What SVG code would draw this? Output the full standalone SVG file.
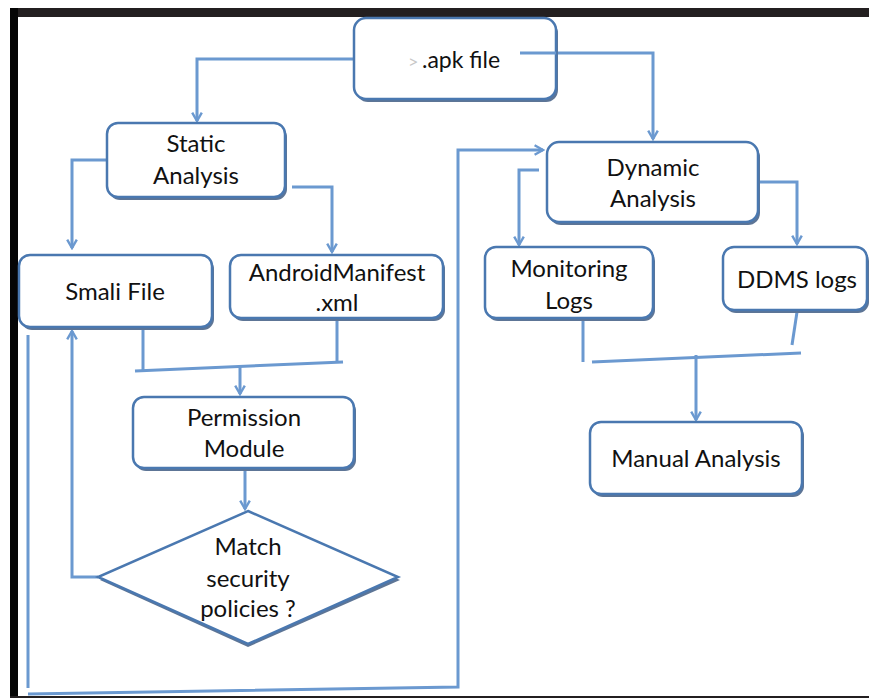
<svg xmlns="http://www.w3.org/2000/svg" width="869" height="698" viewBox="0 0 869 698">
<style>
.box{fill:#fff;stroke:#4a78b0;stroke-width:2.5}
.sh{fill:#5d7596;stroke:none}
.t{font-family:Lato,"Liberation Sans",sans-serif;font-size:24px;fill:#111;text-anchor:middle}
.c{fill:none;stroke:#6b99d0;stroke-width:3}
</style>
<defs>
<marker id="ah" viewBox="0 0 10 10" refX="8" refY="5" markerWidth="4" markerHeight="4" orient="auto" markerUnits="strokeWidth">
<path d="M1,1 L8,5 L1,9" fill="none" stroke="#6b99d0" stroke-width="2"/>
</marker>
</defs>
<rect width="869" height="698" fill="#fff"/>
<rect x="10" y="8" width="859" height="9" fill="#231f20"/>
<rect x="10" y="8" width="8" height="690" fill="#050505"/>
<rect x="10" y="696" width="859" height="2" fill="#231f20"/>

<g id="connectors">
<path class="c" d="M354,59 H197 V121" marker-end="url(#ah)"/>
<path class="c" d="M520,53 H653 V139" marker-end="url(#ah)"/>
<path class="c" d="M107,160 H72 V248" marker-end="url(#ah)"/>
<path class="c" d="M292,187 H332 V252" marker-end="url(#ah)"/>
<path class="c" d="M143,329 V370"/>
<path class="c" d="M337,319 V362"/>
<path class="c" d="M135,371 L343,362"/>
<path class="c" d="M240,367 V394" marker-end="url(#ah)"/>
<path class="c" d="M245,470 V509" marker-end="url(#ah)"/>
<path class="c" d="M98,577 H72 V331" marker-end="url(#ah)"/>
<path class="c" d="M28,335 V688"/>
<path class="c" d="M28,694 L458,687 V150 H543" marker-end="url(#ah)"/>
<path class="c" d="M539,170 H519 V245" marker-end="url(#ah)"/>
<path class="c" d="M760,182 H797 V244" marker-end="url(#ah)"/>
<path class="c" d="M583,319 V362"/>
<path class="c" d="M797,312 L792,345"/>
<path class="c" d="M592,362 L801,353"/>
<path class="c" d="M696,355 V420" marker-end="url(#ah)"/>
</g>

<g id="apk">
<rect class="sh" x="356" y="21" width="202" height="81" rx="12"/>
<rect class="box" x="354" y="18" width="202" height="81" rx="12"/>
<text class="t" x="408" y="68" style="text-anchor:start;fill:#c8c8c8;font-size:18px">&gt;</text>
<text class="t" x="461" y="68" style="font-size:23px">.apk file</text>
</g>
<path class="c" d="M520,53 H556"/>

<g id="static">
<rect class="sh" x="109" y="126" width="178" height="74" rx="11"/>
<rect class="box" x="107" y="123" width="178" height="74" rx="11"/>
<text class="t" x="196" y="152">Static</text>
<text class="t" x="196" y="184">Analysis</text>
</g>

<g id="smali">
<rect class="sh" x="21" y="258" width="193" height="72" rx="11"/>
<rect class="box" x="19" y="255" width="193" height="72" rx="11"/>
<text class="t" x="115" y="300">Smali File</text>
</g>

<g id="manifest">
<rect class="sh" x="232" y="258" width="213" height="63" rx="11"/>
<rect class="box" x="230" y="255" width="213" height="63" rx="11"/>
<text class="t" x="337" y="281">AndroidManifest</text>
<text class="t" x="337" y="311">.xml</text>
</g>

<g id="permission">
<rect class="sh" x="135" y="400" width="221" height="71" rx="11"/>
<rect class="box" x="133" y="397" width="221" height="71" rx="11"/>
<text class="t" x="244" y="426">Permission</text>
<text class="t" x="244" y="457">Module</text>
</g>

<g id="match">
<polygon points="248,514 400,580 248,647 100,580" fill="#5d7596"/>
<polygon class="box" points="248,511 398,577 248,644 98,577"/>
<text class="t" x="248" y="555">Match</text>
<text class="t" x="248" y="587">security</text>
<text class="t" x="248" y="617">policies ?</text>
</g>

<g id="dynamic">
<rect class="sh" x="549" y="145" width="211" height="80" rx="12"/>
<rect class="box" x="547" y="142" width="211" height="80" rx="12"/>
<text class="t" x="653" y="176">Dynamic</text>
<text class="t" x="653" y="207">Analysis</text>
</g>

<g id="monitoring">
<rect class="sh" x="487" y="250" width="168" height="71" rx="11"/>
<rect class="box" x="485" y="247" width="168" height="71" rx="11"/>
<text class="t" x="569" y="277">Monitoring</text>
<text class="t" x="569" y="309">Logs</text>
</g>

<g id="ddms">
<rect class="sh" x="725" y="250" width="144" height="63" rx="11"/>
<rect class="box" x="723" y="247" width="144" height="63" rx="11"/>
<text class="t" x="797" y="288">DDMS logs</text>
</g>

<g id="manual">
<rect class="sh" x="592" y="425" width="212" height="72" rx="11"/>
<rect class="box" x="590" y="422" width="212" height="72" rx="11"/>
<text class="t" x="696" y="467">Manual Analysis</text>
</g>
</svg>
